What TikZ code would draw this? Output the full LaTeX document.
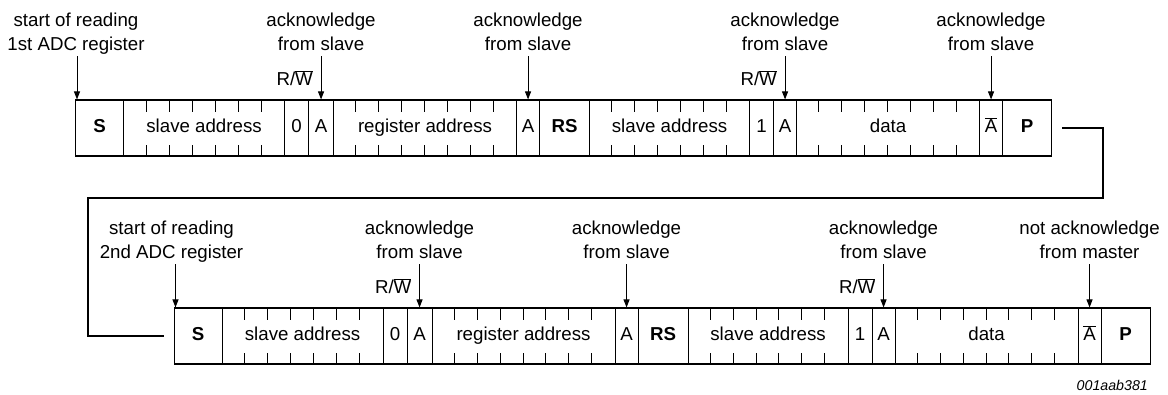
\documentclass[tikz,border=0pt]{standalone}
\usepackage{fontspec}
\setmainfont{Liberation Sans}
\usetikzlibrary{arrows.meta,calc}
\newcommand{\nbar}[1]{$\overline{\mbox{#1}}$}

\tikzset{
  field/.style={draw, line width=1.1pt, inner sep=0pt, minimum height=56pt,
    text height=13.5pt, text depth=4pt,
    anchor=west, font=\fontsize{18.7}{22}\selectfont},
  bittick/.style={line width=1pt},
  note/.style={align=center, inner sep=0pt, anchor=north,
    font=\fontsize{18.7}{24}\selectfont},
  rwlab/.style={inner sep=0pt, anchor=base east, font=\fontsize{18.7}{22}\selectfont},
  pointer/.style={line width=1pt, -{Triangle[length=8pt,width=6pt]}},
  link/.style={line width=1.1pt},
}

\begin{document}
\begin{tikzpicture}[x=1pt,y=-1pt]
\useasboundingbox (0,0) rectangle (1168,394);

% two identical frames, the second one shifted right and down
\foreach \row/\dx/\dy in {a/0/0, b/98.5/208} {
  \foreach \xa/\xb/\txt/\nb/\id in {
      75/123/{\textbf{S}}/1/s,
      123/284/{slave address}/7/sa,
      284/308/0/1/rw,
      308/333/A/1/ackA,
      333/516/{register address}/8/ra,
      516/539/A/1/ackB,
      539/589/{\textbf{RS}}/1/rs,
      589/749/{slave address}/7/sb,
      749/773/1/1/rr,
      773/796/A/1/ackC,
      796/979/data/8/d,
      979/1002/{\nbar{A}}/1/nack,
      1002/1051/{\textbf{P}}/1/p} {
    \pgfmathsetmacro\w{\xb-\xa}
    \node[field, minimum width=\w pt] (\row\id) at (\xa+\dx, 128+\dy) {\txt};
    % bit boundaries: short marks from the top and bottom edges
    \ifnum\nb>1
      \pgfmathtruncatemacro\nm{\nb-1}
      \foreach \k in {1,...,\nm} {
        \pgfmathsetmacro\tx{\xa+\dx+\k*(\xb-\xa)/\nb}
        \draw[bittick] (\tx, 100+\dy) -- (\tx, 112+\dy);
        \draw[bittick] (\tx, 145+\dy) -- (\tx, 156+\dy);
      }
    \fi
  }
  % R/W labels
  \node[rwlab] (\row rwA) at ([xshift=-8pt,yshift=14pt]\row ackA.north) {R/\nbar{W}};
  \node[rwlab] (\row rwC) at ([xshift=-8pt,yshift=14pt]\row ackC.north) {R/\nbar{W}};
  % pointers
  \draw[pointer] ([xshift=2pt,yshift=43pt]\row s.north west) -- ([xshift=2pt]\row s.north west);
  \foreach \t in {ackA, ackB, ackC, nack}
    \draw[pointer] ([yshift=43pt]\row\t.north) -- (\row\t.north);
  % acknowledge notes
  \foreach \t in {ackA, ackB, ackC}
    \node[note] (\row n\t) at ([yshift=87pt]\row\t.north) {acknowledge\\from slave};
}

\node[note] (startA) at ([xshift=1pt,yshift=87pt]as.north west) {start of reading\\1st ADC register};
\node[note] (startB) at ([xshift=-2pt,yshift=87pt]bs.north west) {start of reading\\2nd ADC register};
\node[note] (anote) at ([yshift=87pt]anack.north) {acknowledge\\from slave};
\node[note] (bnote) at ([yshift=87pt]bnack.north) {not acknowledge\\from master};

% continuation from the first frame to the second
\coordinate (turnR) at (1103,198);
\coordinate (turnL) at (88,198);
\draw[link] ([xshift=10pt]ap.east) -| (turnR) -- (turnL) |- ([xshift=-10pt]bs.west);

\node[anchor=base east, inner sep=0pt, font=\fontsize{14.2}{18}\selectfont\itshape] (code) at (1148,390) {001aab381};
\end{tikzpicture}
\end{document}
